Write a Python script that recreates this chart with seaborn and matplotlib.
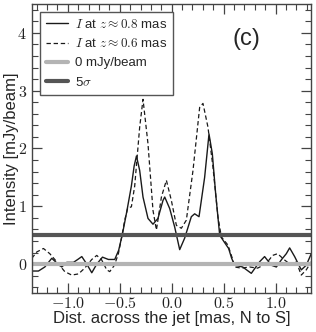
import matplotlib
matplotlib.use("Agg")
import matplotlib.pyplot as plt
import seaborn as sns
import pandas as pd
import numpy as np
from matplotlib.ticker import MultipleLocator, FuncFormatter

# --- data ---
x_solid = [-1.346, -1.282, -1.221, -1.154, -1.106, -1.058, -1.010, -0.945, -0.904, -0.865,
           -0.817, -0.769, -0.721, -0.666, -0.609, -0.548, -0.510, -0.474, -0.433, -0.388,
           -0.361, -0.339, -0.308, -0.276, -0.228, -0.180, -0.132, -0.084, -0.067, -0.019,
           0.029, 0.077, 0.125, 0.189, 0.221, 0.263, 0.317, 0.359, 0.391, 0.423,
           0.462, 0.510, 0.548, 0.577, 0.606, 0.683, 0.766, 0.846, 0.894, 0.959,
           1.007, 1.058, 1.103, 1.135, 1.183, 1.247, 1.295, 1.343]
y_solid = [-0.12, -0.12, -0.05, 0.10, 0.02, -0.05, 0.03, 0.03, 0.08, 0.13,
           0.00, -0.15, 0.00, 0.12, 0.08, 0.08, 0.24, 0.52, 0.90, 1.35,
           1.70, 1.87, 1.62, 1.16, 0.79, 0.69, 0.79, 1.10, 1.16, 0.96,
           0.64, 0.25, 0.45, 0.82, 0.87, 0.82, 1.50, 2.25, 1.91, 1.22,
           0.50, 0.37, 0.27, 0.10, -0.02, -0.05, -0.16, 0.04, 0.13, -0.02,
           -0.05, 0.08, 0.18, 0.28, 0.13, -0.10, -0.02, 0.18]

x_dash = [-1.346, -1.298, -1.234, -1.173, -1.106, -1.029, -0.962, -0.897, -0.837, -0.769,
          -0.721, -0.673, -0.625, -0.596, -0.551, -0.513, -0.481, -0.452, -0.423, -0.388,
          -0.356, -0.308, -0.276, -0.228, -0.180, -0.147, -0.099, -0.051, -0.003, 0.045,
          0.093, 0.141, 0.205, 0.269, 0.301, 0.349, 0.397, 0.445, 0.478, 0.541,
          0.589, 0.606, 0.670, 0.750, 0.827, 0.911, 0.971, 1.019, 1.087, 1.151,
          1.199, 1.247, 1.295, 1.343]
y_dash = [0.10, 0.21, 0.27, 0.18, 0.04, -0.13, -0.19, -0.17, -0.07, 0.08,
          0.15, 0.07, -0.10, -0.13, -0.02, 0.18, 0.47, 0.76, 0.97, 0.99,
          1.35, 2.37, 2.85, 2.08, 0.93, 0.59, 1.16, 1.45, 1.10, 0.67,
          0.62, 0.76, 1.62, 2.71, 2.78, 2.37, 1.68, 0.82, 0.47, 0.33,
          0.07, -0.05, -0.07, -0.05, -0.07, 0.01, 0.15, 0.18, 0.07, -0.02,
          0.04, -0.19, -0.10, 0.04]

zero_level = 0.0
five_sigma = 0.51

labels = [r"$I$ at $z\approx0.8$ mas", r"$I$ at $z\approx0.6$ mas", "0 mJy/beam", r"5$\sigma$"]

sns.set_style("ticks")
plt.rcParams["font.family"] = ["Liberation Sans", "DejaVu Sans"]
plt.rcParams["mathtext.fontset"] = "cm"

fig = plt.figure(figsize=(3.16, 3.32), dpi=100)
ax = fig.add_axes([0.101, 0.1175, 0.883, 0.8705])

df_s = pd.DataFrame({"x": x_solid, "y": y_solid})
df_d = pd.DataFrame({"x": x_dash, "y": y_dash})
sns.lineplot(data=df_s, x="x", y="y", ax=ax, color="#1a1a1a", lw=1.0, label=labels[0], sort=False)
sns.lineplot(data=df_d, x="x", y="y", ax=ax, color="#1a1a1a", lw=0.9, label=labels[1], sort=False)
ax.lines[1].set_dashes([3.5, 2.2])
ax.axhline(zero_level, color="#b4b4b4", lw=3, label=labels[2])
ax.axhline(five_sigma, color="#555555", lw=3, label=labels[3])

ax.set_xlim(-1.345, 1.34)
ax.set_ylim(-0.5, 4.5)
ax.xaxis.set_major_locator(MultipleLocator(0.5))
ax.xaxis.set_minor_locator(MultipleLocator(0.1))
ax.yaxis.set_major_locator(MultipleLocator(1))
ax.yaxis.set_minor_locator(MultipleLocator(0.2))
ax.xaxis.set_major_formatter(FuncFormatter(lambda v, p: r"$%.1f$" % v if abs(v) > 1e-9 else r"$0.0$"))
ax.yaxis.set_major_formatter(FuncFormatter(lambda v, p: r"$%d$" % round(v)))
ax.tick_params(which="both", direction="in", top=True, right=True, colors="#444444",
               labelcolor="#222222", labelsize=11.5)
ax.tick_params(which="major", length=7, width=0.9)
ax.tick_params(which="minor", length=4, width=0.8)
ax.tick_params(axis="x", which="major", pad=2)
for s in ax.spines.values():
    s.set_color("#444444")
    s.set_linewidth(1.0)

ax.set_xlabel("Dist. across the jet [mas, N to S]", fontsize=12, labelpad=0)
ax.set_ylabel("Intensity [mJy/beam]", fontsize=12, labelpad=-1)

leg = ax.legend(loc="upper left", fontsize=9.5, fancybox=False, framealpha=1,
                edgecolor="#555555", handlelength=1.7, handletextpad=0.5,
                borderaxespad=0.6, labelspacing=0.5, borderpad=0.45)
leg.get_frame().set_linewidth(1.0)

ax.text(0.77, 0.88, "(c)", transform=ax.transAxes, fontsize=17, ha="center", va="center")

fig.savefig("out.png", dpi=100)
